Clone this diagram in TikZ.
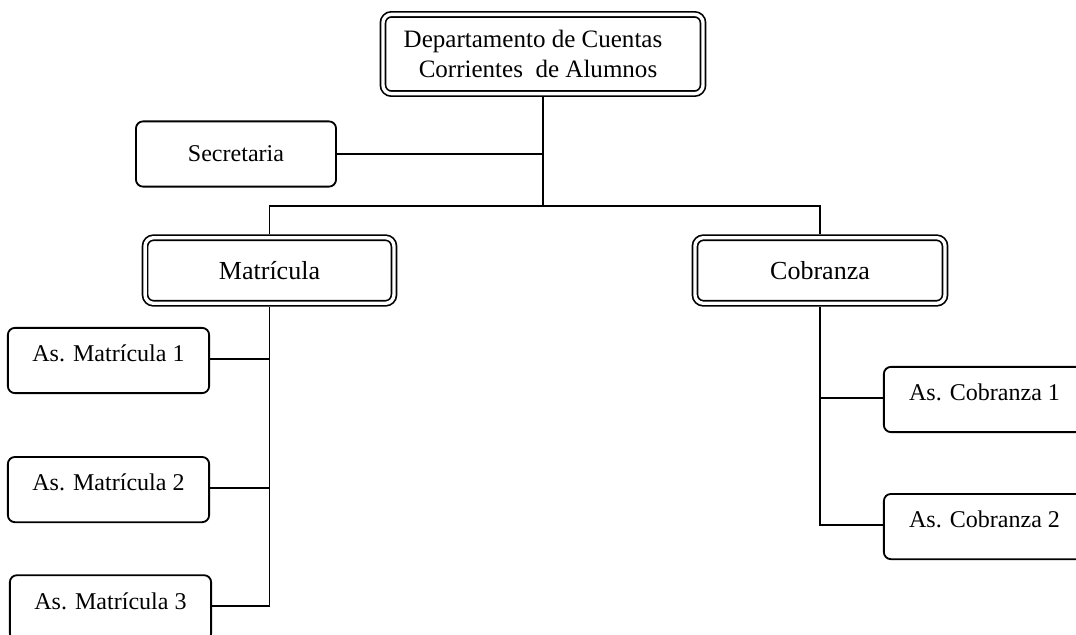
\documentclass[tikz,border=0pt]{standalone}
\usepackage{fontspec}
\setmainfont{Liberation Serif}
\usetikzlibrary{positioning}

\begin{document}
\begin{tikzpicture}[x=0.025cm, y=-0.025cm, node distance=1.5cm and 2cm,
    box/.style={rectangle, draw, line width=1.3pt, rounded corners=5pt, text centered, minimum width=5.03cm, minimum height=1.63cm, font=\fontsize{17.1}{20}\selectfont},
    asbox/.style={box, text height=10pt, text depth=8pt},
    dblbox/.style={rectangle, draw, double, line width=1.2pt, double distance=2.4pt, outer sep=2.4pt, rounded corners=6pt, text centered, minimum height=1.64cm, font=\fontsize{18.5}{22}\selectfont},
    link/.style={line width=1.3pt},
    point/.style={coordinate}]

    \useasboundingbox (0,0) rectangle (1076,635);
    \clip (0,0) rectangle (1076,635);

    \node (dept) [dblbox, align=center, minimum width=8cm, minimum height=1.98cm, font=\fontsize{17.8}{21.3}\selectfont] at (543,54) {Departamento de Cuentas\hspace*{0.5cm}\\Corrientes~ de Alumnos\hspace*{0.25cm}};
    \node (bus) [point, below=2.72cm of dept] {};
    \node (sec) [box, minimum width=5cm] at (236,154) {Secretaria};
    \node (mat) [dblbox, minimum width=6.22cm] at (269.5,270.5) {Matrícula};
    \node (cob) [dblbox, minimum width=6.25cm] at (820,270.5) {Cobranza};

    \node (am1) [asbox] at (108.5,360.5) {As. Matrícula 1};
    \node (am2) [asbox, below=1.55cm of am1] {As. Matrícula 2};
    \node (am3) [asbox, below=1.28cm of am2, xshift=0.05cm] {As. Matrícula 3};
    \node (ac1) [asbox] at (984.5,399.5) {As. Cobranza 1};
    \node (ac2) [asbox, below=1.5cm of ac1] {As. Cobranza 2};

    \draw [link] (dept.south) -- (bus);
    \draw [link] (sec.east) -- (sec.east -| bus);
    \draw [link] (mat.north) |- (bus) -| (cob.north);
    \draw [link] (mat.south) |- (am3.mid east);
    \draw [link] (am1.mid east) -- (am1.mid east -| mat.south);
    \draw [link] (am2.mid east) -- (am2.mid east -| mat.south);
    \draw [link] (cob.south) |- (ac2.mid west);
    \draw [link] (ac1.mid west) -- (ac1.mid west -| cob.south);

\end{tikzpicture}
\end{document}
